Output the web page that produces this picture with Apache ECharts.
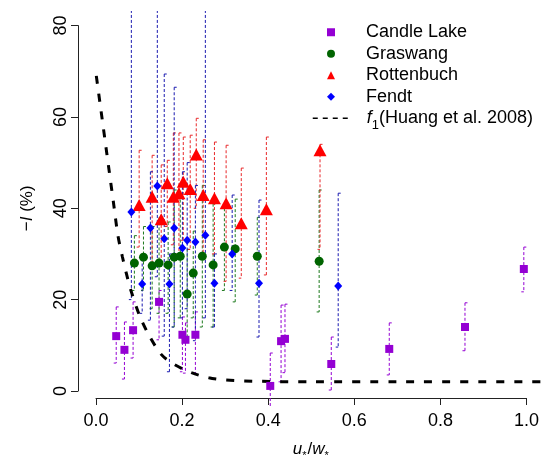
<!DOCTYPE html>
<html>
<head>
<meta charset="utf-8">
<script src="https://cdn.jsdelivr.net/npm/echarts@6/dist/echarts.min.js"></script>
<style>
html, body { margin: 0; padding: 0; background: #fff; }
#chart1 { width: 542px; height: 466px; }
</style>
</head>
<body>
<div id="chart1"></div>
<script>
// Candle Lake
var candleX  = [0.046, 0.065, 0.085, 0.145, 0.199, 0.206, 0.229, 0.402, 0.427, 0.436, 0.543, 0.677, 0.852, 0.988];
var candleY  = [12.0, 9.0, 13.3, 19.5, 12.3, 11.2, 12.3, 1.1, 10.9, 11.4, 5.9, 9.2, 14.0, 26.7];
var candleLo = [6.1, 2.6, 7.2, 11.2, 4.2, 3.9, 3.9, -4.0, 2.0, 4.0, 0.2, 3.5, 8.8, 21.7];
var candleHi = [18.4, 15.1, 19.5, 22.0, 16.2, 14.9, 17.3, 8.3, 18.8, 19.0, 11.8, 14.9, 19.3, 31.5];

// Graswang
var grasX  = [0.088, 0.109, 0.129, 0.145, 0.166, 0.180, 0.194, 0.210, 0.224, 0.245, 0.270, 0.296, 0.321, 0.372, 0.515];
var grasY  = [28.0, 29.3, 27.4, 28.0, 27.6, 29.3, 29.5, 21.2, 25.8, 29.5, 27.6, 31.5, 31.1, 29.5, 28.4];
var grasLo = [22, 22, 18, 17, 17, 14, 16, 11, 16, 14, 14, 22, 19.5, 21, 17.3];
var grasHi = [34, 36, 36, 38, 37, 44, 43, 31, 35, 45, 41, 40, 42, 38, 44];

// Rottenbuch
var rottX  = [0.099, 0.129, 0.150, 0.164, 0.178, 0.191, 0.201, 0.217, 0.231, 0.247, 0.273, 0.300, 0.335, 0.393, 0.517];
var rottY  = [40.7, 42.5, 37.6, 45.5, 42.5, 43.3, 45.8, 44.2, 51.8, 42.9, 42.2, 41.1, 36.7, 39.8, 52.7];
var rottLo = [31.5, 28, 28, 36, 32, 30, 33, 31, 40, 30, 30, 24, 24.7, 25.4, 31];
var rottHi = [52.7, 51.6, 49.5, 50.5, 56.5, 56.5, 55.6, 56, 59.7, 55, 54.5, 53.8, 48.8, 55.6, 54];

// Fendt
var fendtX  = [0.081, 0.106, 0.125, 0.141, 0.157, 0.169, 0.180, 0.199, 0.210, 0.229, 0.252, 0.273, 0.314, 0.376, 0.559];
var fendtY  = [39.2, 23.4, 35.7, 44.9, 33.3, 23.4, 35.7, 31.3, 33.0, 32.6, 34.1, 23.6, 30.0, 23.6, 23.0];
var fendtLo = [20, 17, 15.5, 25, 12, 4.2, 14, 16, 18, 11, 16, 14, 22, 11.8, 9.6];
var fendtHi = [90, 29, 48, 90, 69.4, 30, 66.5, 48, 50, 45, 90, 30, 42.9, 41.8, 43.3];

// f1 (Huang et al. 2008)
var f1X = [0, 0.01, 0.02, 0.03, 0.04, 0.05, 0.06, 0.07, 0.08, 0.10, 0.12, 0.15, 0.18, 0.22, 0.26, 0.30, 0.38, 0.50, 0.70, 1.03];
var f1Y = [69, 62, 55, 48, 41, 34, 29.5, 25.5, 22, 16.5, 12.5, 8, 5.8, 4, 2.9, 2.4, 2.1, 2.0, 2.0, 2.0];

var xTicks = [0, 0.2, 0.4, 0.6, 0.8, 1.0];
var yTicks = [0, 20, 40, 60, 80];

var FONT = 'Liberation Sans';

function zip(a, b) {
	var out = [];
	for(var i = 0; i < a.length; i++) {
		out.push([a[i], b[i]]);
	}
	return out;
}

//误差线
function errorBars(name, xs, lo, hi, color) {
	var data = [];
	for(var i = 0; i < xs.length; i++) {
		data.push([xs[i], lo[i], hi[i]]);
	}
	return {
		type: 'custom',
		name: name + ' err',
		xAxisIndex: 0,
		yAxisIndex: 0,
		clip: true,
		silent: true,
		z: 1,
		encode: { x: 0, y: [1, 2] },
		data: data,
		renderItem: function(params, api) {
			var top = api.coord([api.value(0), api.value(2)]);
			var bot = api.coord([api.value(0), api.value(1)]);
			return {
				type: 'group',
				children: [{
					type: 'line',
					shape: { x1: top[0], y1: top[1], x2: bot[0], y2: bot[1] },
					style: { stroke: color, lineWidth: 1, lineDash: [3, 2], fill: null }
				}, {
					type: 'line',
					shape: { x1: top[0], y1: top[1], x2: top[0] + 2.5, y2: top[1] },
					style: { stroke: color, lineWidth: 1, fill: null }
				}, {
					type: 'line',
					shape: { x1: bot[0], y1: bot[1], x2: bot[0] - 2.5, y2: bot[1] },
					style: { stroke: color, lineWidth: 1, fill: null }
				}]
			};
		}
	};
}

var legendText = {
	color: '#000', fontFamily: FONT, fontSize: 18, lineHeight: 18.5,
	rich: {
		i: { fontStyle: 'italic', fontFamily: FONT, fontSize: 18, color: '#000' },
		sub: { fontFamily: FONT, fontSize: 13, color: '#000', verticalAlign: 'bottom', lineHeight: 13, padding: [0, 0, -4, 0] }
	}
};

function chart1() {
	var myChart = echarts.init(document.getElementById('chart1'));
	var option = {
		animation: false,
		grid: [
			{ left: 79, right: 0, top: 11, bottom: 60 },   // 数据区
			{ left: 96, width: 433, top: 11, bottom: 59 },  // x 轴
			{ left: 78, width: 400, top: 25.6, bottom: 75 } // y 轴
		],
		xAxis: [{
			gridIndex: 0, type: 'value', min: -0.04, max: 1.03, show: false, splitLine: { show: false }
		}, {
			gridIndex: 1, type: 'value', min: 0, max: 1, interval: 0.2,
			axisLine: { show: true, lineStyle: { color: '#222', width: 1 } },
			axisTick: { show: true, length: 7, lineStyle: { color: '#222' } },
			splitLine: { show: false },
			axisLabel: {
				margin: 14, color: '#000', fontFamily: FONT, fontSize: 18,
				formatter: function(v) { return xTicks.indexOf(v) >= 0 ? v.toFixed(1) : ''; }
			},
			name: '{i|u}{s|*}{n|/}{i|w}{s|*}',
			nameLocation: 'middle',
			nameGap: 43,
			nameTextStyle: {
				color: '#000', fontFamily: FONT, fontSize: 17,
				rich: {
					i: { fontStyle: 'italic', fontFamily: FONT, fontSize: 17, color: '#000' },
					n: { fontFamily: FONT, fontSize: 17, color: '#000' },
					s: { fontFamily: FONT, fontSize: 11, color: '#000', verticalAlign: 'bottom', lineHeight: 11, padding: [0, 1, -3, 0] }
				}
			}
		}, {
			gridIndex: 2, type: 'value', show: false, splitLine: { show: false }
		}],
		yAxis: [{
			gridIndex: 0, type: 'value', min: -3.3, max: 83.2, show: false, splitLine: { show: false }
		}, {
			gridIndex: 1, type: 'value', show: false, splitLine: { show: false }
		}, {
			gridIndex: 2, type: 'value', min: 0, max: 80, interval: 20,
			axisLine: { show: true, lineStyle: { color: '#222', width: 1 } },
			axisTick: { show: true, length: 7, lineStyle: { color: '#222' } },
			splitLine: { show: false },
			axisLabel: {
				rotate: 90, margin: 8, color: '#000', fontFamily: FONT, fontSize: 18,
				formatter: function(v) { return yTicks.indexOf(v) >= 0 ? String(v) : ''; }
			},
			name: '\u2212{i|I} (%)',
			nameLocation: 'middle',
			nameGap: 42,
			nameTextStyle: {
				color: '#000', fontFamily: FONT, fontSize: 17,
				rich: {
					i: { fontStyle: 'italic', fontFamily: FONT, fontSize: 17, color: '#000' }
				}
			}
		}],
		legend: [{
			// 点图例
			orient: 'vertical',
			left: 327,
			top: 23,
			padding: 0,
			itemGap: 3,
			itemWidth: 8,
			itemHeight: 8,
			selectedMode: false,
			textStyle: echarts.util.extend({ padding: [0, 0, 0, 26] }, legendText),
			data: ['Candle Lake', 'Graswang', 'Rottenbuch', 'Fendt']
		}, {
			// 曲线图例
			orient: 'vertical',
			left: 312,
			top: 109,
			padding: 0,
			itemWidth: 38,
			itemHeight: 8,
			selectedMode: false,
			itemStyle: { opacity: 0 },
			lineStyle: { width: 1.5, type: [5, 5] },
			textStyle: echarts.util.extend({ padding: [0, 0, 0, 11] }, legendText),
			formatter: function(name) {
				return '{i|f}{sub|1}(Huang et al. 2008)';
			},
			data: ['f1(Huang et al. 2008)']
		}],
		series: [
			errorBars('Candle Lake', candleX, candleLo, candleHi, '#9400D3'),
			errorBars('Graswang', grasX, grasLo, grasHi, '#1E7A1E'),
			errorBars('Rottenbuch', rottX, rottLo, rottHi, '#E8282A'),
			errorBars('Fendt', fendtX, fendtLo, fendtHi, '#1A1AB0'),
		{
			name: 'f1(Huang et al. 2008)',
			type: 'line',
			xAxisIndex: 0,
			yAxisIndex: 0,
			smooth: 0.3,
			symbol: 'none',
			z: 3,
			lineStyle: { color: '#000', width: 3, type: [8, 10], cap: 'butt' },
			itemStyle: { color: '#000' },
			data: zip(f1X, f1Y)
		}, {
			name: 'Candle Lake',
			type: 'scatter',
			symbol: 'rect',
			symbolSize: 8,
			z: 4,
			itemStyle: { color: '#9400D3', opacity: 1 },
			data: zip(candleX, candleY)
		}, {
			name: 'Graswang',
			type: 'scatter',
			symbol: 'circle',
			symbolSize: 9,
			z: 4,
			itemStyle: { color: '#006400', opacity: 1 },
			data: zip(grasX, grasY)
		}, {
			name: 'Rottenbuch',
			type: 'scatter',
			symbol: 'triangle',
			symbolSize: [13, 12],
			z: 4,
			itemStyle: { color: '#FF0000', opacity: 1 },
			data: zip(rottX, rottY)
		}, {
			name: 'Fendt',
			type: 'scatter',
			symbol: 'diamond',
			symbolSize: [8, 9],
			z: 4,
			itemStyle: { color: '#0000FF', opacity: 1 },
			data: zip(fendtX, fendtY)
		}]
	};
	myChart.setOption(option);
}

chart1();
</script>
</body>
</html>
